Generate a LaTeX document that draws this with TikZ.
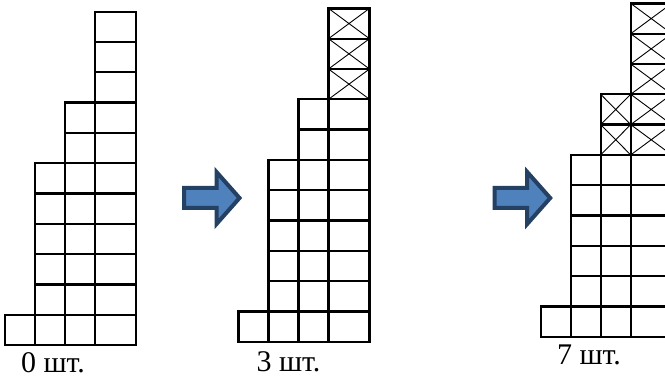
\documentclass[tikz,border=0pt]{standalone}
\usepackage{fontspec}
\setmainfont{Liberation Serif}
\usepackage{tikz}
\definecolor{arrowfill}{RGB}{79,129,189}
\definecolor{arrowline}{RGB}{36,64,98}
\tikzset{
  cell/.style={line width=2.3pt},
  crossline/.style={line width=0.9pt},
  blockarrow/.style={fill=arrowfill,draw=arrowline,line width=4pt,line join=miter},
  countlabel/.style={font=\fontsize{30}{30}\selectfont,anchor=base,inner sep=0pt,text depth=0pt}
}
\newcommand{\hrow}{30.3}
% the four columns of one stack (1, 6, 8 and 11 cells)
\newcommand{\drawtower}{%
  \foreach \xa/\xb/\n in {0/30/1,30/60/6,60/90/8,90/131/11}
    \foreach \r in {1,...,\n}
      \draw[cell] (\xa,{(\r-1)*\hrow}) rectangle (\xb,{\r*\hrow});}
\newcommand{\crosscell}[3]{%
  \draw[crossline] (#1,{(#3-1)*\hrow}) -- (#2,{#3*\hrow}) (#1,{#3*\hrow}) -- (#2,{(#3-1)*\hrow});}
\newcommand{\bluearrow}[2]{%
  \draw[blockarrow] (#1,#2) ++(0,10) -- ++(32.5,0) -- ++(0,16) -- ++(23,-26)
    -- ++(-23,-26) -- ++(0,16) -- ++(-32.5,0) -- cycle;}

\begin{document}
\begin{tikzpicture}[x=1pt,y=1pt]
    \clip (0,0) rectangle (665,377);
    \fill[white] (0,0) rectangle (665,377);
    % first stack
    \begin{scope}[shift={(5,32)}]
        \drawtower
    \end{scope}
    % second stack
    \begin{scope}[shift={(238.5,35.3)}]
        \foreach \r in {9,...,11} {\crosscell{90}{131}{\r}}
        \drawtower
    \end{scope}
    % third stack
    \begin{scope}[shift={(540.7,40.3)}]
        \foreach \r in {7,...,11} {\crosscell{90}{131}{\r}}
        \foreach \r in {7,8} {\crosscell{60}{90}{\r}}
        \drawtower
    \end{scope}
    \bluearrow{184}{179}
    \bluearrow{494.7}{179}
    \node[countlabel] (lbl0) at (53,4.7) {0 шт.};
    \node[countlabel] (lbl3) at (288.5,5.3) {3 шт.};
    \node[countlabel] (lbl7) at (589,12.7) {7 шт.};
\end{tikzpicture}
\end{document}
